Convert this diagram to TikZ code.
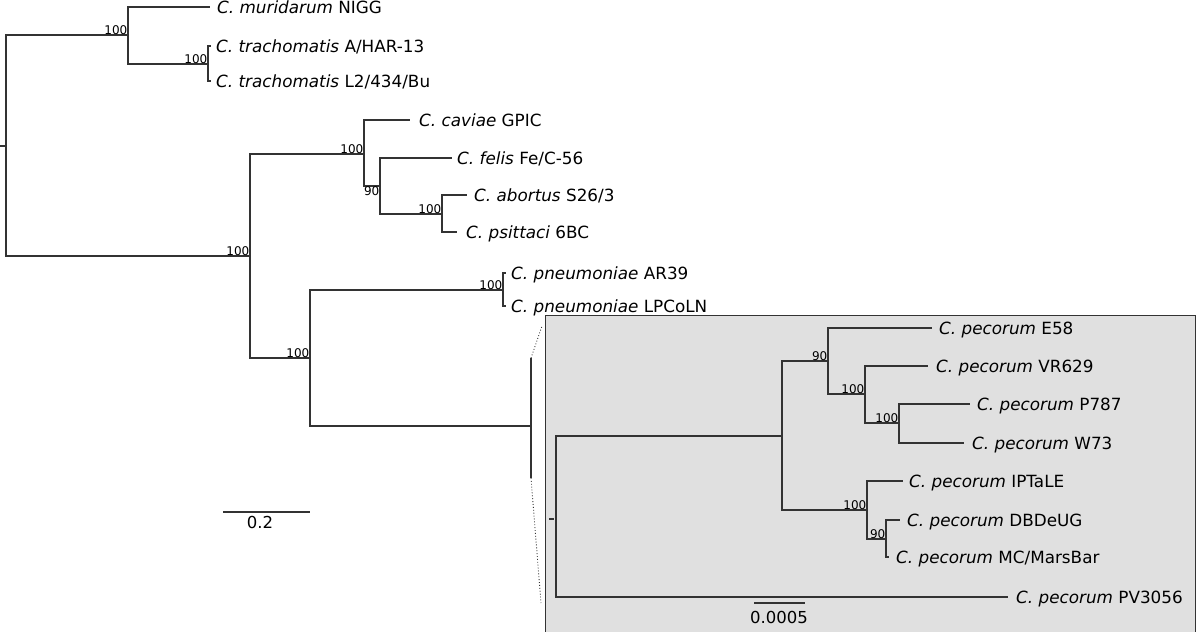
\documentclass[tikz,border=0pt]{standalone}
\usepackage{fontspec}
\setmainfont{DejaVu Sans}
\definecolor{boxgrey}{HTML}{E0E0E0}
\definecolor{linegrey}{HTML}{333333}
\begin{document}
\begin{tikzpicture}[x=1pt,y=-1pt,
  br/.style={draw=linegrey,line width=1.3pt},
  taxon/.style={anchor=base west,inner sep=0pt,font=\fontsize{16.8}{19}\selectfont},
  supa/.style={anchor=south east,inner sep=0.5pt,font=\fontsize{12}{14}\selectfont},
  supb/.style={anchor=north east,inner sep=0.5pt,font=\fontsize{12}{14}\selectfont},
  sclab/.style={inner sep=0pt,font=\fontsize{16.5}{18}\selectfont},
  dots/.style={draw=linegrey,line width=0.9pt,dotted}]
\useasboundingbox (0,0) rectangle (1200,632);
% inset box
\node[draw=linegrey,line width=1pt,fill=boxgrey,minimum width=650pt,minimum height=317pt,anchor=north west,inner sep=0pt] (box) at (545,315) {};
% coordinates main tree
\coordinate (R0) at (0,146);
\coordinate (R) at (6,146);
\coordinate (A) at (128,35);
\coordinate (T1) at (210,7);
\coordinate (C) at (208,64);
\coordinate (T2) at (211,46);
\coordinate (T3) at (211,81);
\coordinate (B) at (250,256);
\coordinate (D) at (364,154);
\coordinate (T4) at (410,120);
\coordinate (F) at (380,186);
\coordinate (T5) at (452,158);
\coordinate (G) at (442,214);
\coordinate (T6) at (467,195);
\coordinate (T7) at (457,232);
\coordinate (E) at (310,358);
\coordinate (H) at (503,290);
\coordinate (T8) at (506,273);
\coordinate (T9) at (506,306);
\coordinate (P) at (531,426);
\coordinate (Ptop) at (531,358);
\coordinate (Pbot) at (531,478);
\coordinate (Dtop) at (542,326);
\coordinate (Dbot) at (541,603);
% inset coordinates
\coordinate (IR0) at (549,519);
\coordinate (IR1) at (554,519);
\coordinate (IR) at (556,519);
\coordinate (J) at (782,436);
\coordinate (K) at (828,361);
\coordinate (T10) at (932,328);
\coordinate (M) at (865,394);
\coordinate (T11) at (928,366);
\coordinate (N) at (899,423);
\coordinate (T12) at (970,404);
\coordinate (T13) at (964,443);
\coordinate (L) at (867,510);
\coordinate (T14) at (903,481);
\coordinate (O) at (886,539);
\coordinate (T15) at (900,520);
\coordinate (T16) at (889,557);
\coordinate (T17) at (1008,597);
% scale bars
\coordinate (S1a) at (223,512);
\coordinate (S1b) at (310,512);
\coordinate (S2a) at (754,603);
\coordinate (S2b) at (805,603);
% branches main
\draw[br] (R0) -- (R);
\draw[br] (R) |- (A);
\draw[br] (R) |- (B);
\draw[br] (A) |- (T1);
\draw[br] (A) |- (C);
\draw[br] (C) |- (T2);
\draw[br] (C) |- (T3);
\draw[br] (B) |- (D);
\draw[br] (B) |- (E);
\draw[br] (D) |- (T4);
\draw[br] (D) |- (F);
\draw[br] (F) |- (T5);
\draw[br] (F) |- (G);
\draw[br] (G) |- (T6);
\draw[br] (G) |- (T7);
\draw[br] (E) |- (H);
\draw[br] (E) |- (P);
\draw[br] (H) |- (T8);
\draw[br] (H) |- (T9);
\draw[br] (Ptop) -- (Pbot);
\draw[dots] (Ptop) -- (Dtop);
\draw[dots] (Pbot) -- (Dbot);
% branches inset
\draw[br] (IR0) -- (IR1);
\draw[br] (IR) |- (J);
\draw[br] (IR) |- (T17);
\draw[br] (J) |- (K);
\draw[br] (J) |- (L);
\draw[br] (K) |- (T10);
\draw[br] (K) |- (M);
\draw[br] (M) |- (T11);
\draw[br] (M) |- (N);
\draw[br] (N) |- (T12);
\draw[br] (N) |- (T13);
\draw[br] (L) |- (T14);
\draw[br] (L) |- (O);
\draw[br] (O) |- (T15);
\draw[br] (O) |- (T16);
% scale bars
\draw[br] (S1a) -- (S1b);
\draw[br] (S2a) -- (S2b);
\node[sclab] (s1) at (260,522) {0.2};
\node[sclab] (s2) at (779,617) {0.0005};
% taxon labels (base west at text start, baseline ~6pt below tip)
\node[taxon] (l1) at (217,13) {\textit{C. muridarum} NIGG};
\node[taxon] (l2) at (216,52) {\textit{C. trachomatis} A/HAR-13};
\node[taxon] (l3) at (216,87) {\textit{C. trachomatis} L2/434/Bu};
\node[taxon] (l4) at (419,126) {\textit{C. caviae} GPIC};
\node[taxon] (l5) at (457,164) {\textit{C. felis} Fe/C-56};
\node[taxon] (l6) at (474,201) {\textit{C. abortus} S26/3};
\node[taxon] (l7) at (466,238) {\textit{C. psittaci} 6BC};
\node[taxon] (l8) at (511,279) {\textit{C. pneumoniae} AR39};
\node[taxon] (l9) at (511,312) {\textit{C. pneumoniae} LPCoLN};
\node[taxon] (l10) at (939,334) {\textit{C. pecorum} E58};
\node[taxon] (l11) at (936,372) {\textit{C. pecorum} VR629};
\node[taxon] (l12) at (977,410) {\textit{C. pecorum} P787};
\node[taxon] (l13) at (972,449) {\textit{C. pecorum} W73};
\node[taxon] (l14) at (909,487) {\textit{C. pecorum} IPTaLE};
\node[taxon] (l15) at (907,526) {\textit{C. pecorum} DBDeUG};
\node[taxon] (l16) at (896,563) {\textit{C. pecorum} MC/MarsBar};
\node[taxon] (l17) at (1016,603) {\textit{C. pecorum} PV3056};
% support values
\node[supa] (bA) at (A) {100};
\node[supa] (bC) at (C) {100};
\node[supa] (bB) at (B) {100};
\node[supa] (bD) at (D) {100};
\node[supb] (bF) at (F) {90};
\node[supa] (bG) at (G) {100};
\node[supa] (bH) at (H) {100};
\node[supa] (bE) at (E) {100};
\node[supa] (bK) at (K) {90};
\node[supa] (bM) at (M) {100};
\node[supa] (bN) at (N) {100};
\node[supa] (bL) at (L) {100};
\node[supa] (bO) at (O) {90};
\end{tikzpicture}
\end{document}
